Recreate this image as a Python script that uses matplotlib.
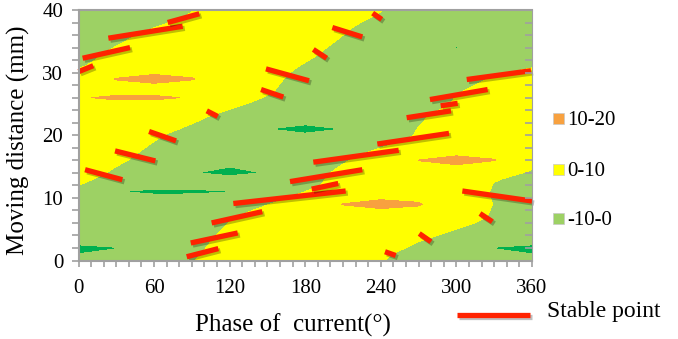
"""Contour map of force vs. phase of current and moving distance, with stable points."""
import matplotlib
matplotlib.use("Agg")
import matplotlib.pyplot as plt
import matplotlib.patheffects as pe
import numpy as np
from matplotlib.patches import Rectangle

# grid: rows = moving distance (mm), columns = phase (deg)
phase = [0, 30, 60, 90, 120, 150, 180, 210, 240, 270, 300, 330, 360]
distance = list(range(0, 41))
force = [
    [-8.5, -8.5, -4.8, -0.3, 4.2, 8.5, 8.5, 5.0, 0.5, -4.1, -8.5, -8.5, -8.5],
    [-9.8, -8.5, -5.6, -1.1, 3.5, 8.0, 8.5, 5.7, 1.2, -3.3, -7.8, -8.5, -9.8],
    [-13.0, -10.2, -6.2, -1.7, 2.9, 7.4, 8.5, 7.5, 3.0, -1.5, -6.0, -10.2, -13.0],
    [-7.0, -8.5, -6.8, -2.3, 2.3, 6.8, 8.5, 8.5, 4.5, 0.0, -4.5, -8.5, -7.0],
    [-8.5, -8.5, -7.4, -2.9, 1.7, 6.2, 8.5, 8.5, 6.8, 2.3, -2.3, -6.8, -8.5],
    [-8.5, -8.5, -8.1, -3.6, 0.9, 5.4, 8.5, 8.5, 8.5, 4.5, 0.0, -4.5, -8.5],
    [-6.8, -8.5, -8.5, -4.4, 0.2, 4.7, 8.5, 8.5, 8.5, 6.8, 2.3, -2.3, -6.8],
    [-5.4, -8.5, -8.5, -5.4, -0.9, 3.6, 8.1, 8.5, 8.5, 8.1, 3.6, -0.9, -5.4],
    [-5.0, -8.5, -8.5, -7.2, -2.7, 1.8, 6.3, 8.5, 8.5, 8.5, 4.1, -0.5, -5.0],
    [-4.7, -8.5, -8.5, -8.5, -4.8, -0.3, 4.2, 10.2, 13.5, 10.6, 4.4, -0.2, -4.7],
    [-4.4, -8.5, -8.5, -8.5, -6.9, -2.4, 2.1, 6.6, 8.5, 8.5, 4.7, -0.5, -4.4],
    [-3.0, -9.8, -11.0, -10.9, -10.1, -4.5, 0.0, 4.5, 8.5, 8.5, 6.0, -0.8, -3.5],
    [0.0, -4.5, -8.5, -8.5, -8.5, -6.3, -1.8, 2.7, 7.2, 8.5, 8.5, -0.5, -3.0],
    [1.8, -2.7, -7.2, -8.5, -7.0, -6.9, -2.4, 2.1, 6.6, 8.5, 8.5, 0.5, -2.0],
    [3.3, -1.2, -5.7, -9.5, -12.5, -9.5, -3.0, 1.5, 6.0, 8.5, 8.5, 2.5, -0.8],
    [4.5, 0.0, -4.5, -8.5, -9.8, -8.5, -4.1, 0.5, 5.0, 8.5, 8.5, 5.5, 0.8],
    [5.9, 1.4, -3.2, -7.7, -8.5, -8.5, -5.3, -0.8, 3.8, 10.1, 13.5, 10.3, 3.0],
    [6.9, 2.4, -2.1, -6.6, -8.5, -8.5, -6.8, -2.3, 2.3, 6.8, 8.5, 8.5, 5.0],
    [8.0, 3.5, -1.1, -5.6, -8.5, -8.5, -8.5, -4.5, 0.0, 4.5, 8.5, 8.5, 8.0],
    [8.5, 4.5, 0.0, -4.5, -8.5, -8.5, -8.5, -7.1, -2.6, 2.0, 6.5, 8.5, 8.5],
    [8.5, 5.6, 1.1, -3.5, -8.0, -8.5, -8.5, -8.4, -3.9, 0.6, 5.1, 8.5, 8.5],
    [8.5, 7.5, 3.0, -1.5, -6.0, -9.9, -13.0, -9.9, -4.4, 0.2, 4.7, 8.5, 8.5],
    [8.5, 8.5, 4.1, 0.3, -4.2, -8.5, -8.5, -8.5, -5.0, -0.5, 4.1, 8.5, 8.5],
    [8.5, 8.5, 6.5, 2.0, -2.6, -7.1, -8.5, -8.5, -5.6, -1.1, 3.5, 8.0, 8.5],
    [8.5, 8.5, 8.5, 4.2, -0.3, -4.8, -8.5, -8.5, -6.9, -2.4, 2.1, 6.6, 8.5],
    [8.5, 8.5, 8.5, 6.5, 2.0, -2.6, -7.1, -8.5, -8.3, -3.8, 0.8, 5.3, 8.5],
    [9.6, 10.8, 10.8, 9.6, 3.9, -0.6, -5.1, -8.5, -8.5, -4.4, 0.2, 4.7, 8.5],
    [8.3, 8.5, 8.5, 8.5, 5.3, 0.8, -3.8, -8.3, -8.5, -5.3, -0.8, 3.8, 8.3],
    [6.8, 8.5, 8.5, 8.5, 5.9, 1.4, -3.2, -7.7, -8.5, -6.8, -2.3, 2.3, 6.8],
    [5.3, 10.3, 13.5, 10.3, 6.5, 2.0, -2.6, -7.1, -8.5, -8.3, -3.8, 0.8, 5.3],
    [2.7, 7.2, 8.5, 8.5, 7.2, 2.7, -1.8, -6.3, -8.5, -8.5, -6.3, -1.8, 2.7],
    [-0.8, 3.8, 8.3, 8.5, 8.3, 3.8, -0.8, -5.3, -8.5, -8.5, -8.5, -5.3, -0.8],
    [-2.0, 2.6, 7.1, 8.5, 8.5, 5.0, 0.5, -4.1, -8.5, -8.5, -8.5, -6.5, -2.0],
    [-2.9, 1.7, 6.2, 8.5, 8.5, 6.2, 1.7, -2.9, -7.4, -8.5, -8.5, -7.4, -2.9],
    [-4.2, 0.3, 4.8, 8.5, 8.5, 7.1, 2.6, -2.0, -6.5, -8.5, -10.2, -8.5, -4.2],
    [-5.6, -1.1, 3.5, 8.0, 8.5, 8.1, 3.6, -0.9, -5.4, -8.5, -8.5, -8.5, -5.6],
    [-6.9, -2.4, 2.1, 6.6, 8.5, 8.5, 4.5, 0.0, -4.5, -8.5, -8.5, -8.5, -6.9],
    [-8.5, -4.2, 0.3, 4.8, 8.5, 8.5, 5.4, 0.9, -3.6, -8.1, -8.5, -8.5, -8.5],
    [-8.5, -6.3, -1.8, 2.7, 7.2, 8.5, 6.6, 2.1, -2.4, -6.9, -8.5, -8.5, -8.5],
    [-8.5, -8.3, -3.8, 0.8, 5.3, 8.5, 8.1, 3.6, -0.9, -5.4, -8.5, -8.5, -8.5],
    [-8.5, -8.5, -4.8, -0.3, 4.2, 8.5, 8.5, 4.8, 0.3, -4.2, -8.5, -8.5, -8.5],
]
levels = [-20, -10, 0, 10, 20]
level_colors = ["#00B050", "#9DD164", "#FFFF00", "#F8A13F"]
legend_labels = ["10-20", "0-10", "-10-0"]

# stable points: (start, end) of each red segment
stable_phase = [(0, 11.7), (3.3, 40.9), (23.7, 82.7), (70.8, 95.9), (148.8, 183.0),
                (144.9, 162.6), (101.8, 110.5), (56.0, 77.4), (29.0, 61.0), (5.2, 34.8),
                (122.9, 212.1), (167.9, 225.3), (185.1, 206.2), (186.4, 254.2), (237.2, 294.1),
                (105.7, 145.9), (89.1, 126.4), (85.9, 111.0), (304.7, 360.0), (318.7, 328.5),
                (270.5, 279.8), (243.3, 251.8), (233.5, 240.7), (201.5, 225.3), (186.4, 197.0),
                (308.2, 359.2), (279.0, 324.8), (287.5, 301.0), (260.5, 295.7)]
stable_dist = [(30.15, 31.1), (32.3, 34.0), (35.5, 37.4), (38.0, 39.4), (30.6, 28.7),
               (27.3, 26.1), (23.9, 23.0), (20.6, 19.1), (17.5, 15.9), (14.5, 12.9),
               (9.1, 11.1), (12.6, 14.5), (11.4, 12.3), (15.7, 17.6), (18.6, 20.3),
               (6.0, 7.8), (2.8, 4.4), (0.6, 1.9), (11.1, 9.5), (7.5, 6.2),
               (4.3, 3.0), (1.4, 0.8), (39.5, 38.5), (37.2, 35.7), (33.7, 32.3),
               (28.9, 30.3), (25.7, 27.3), (24.7, 25.1), (22.8, 23.9)]

RED = "#FF2200"
GRAY = "#A0A0A0"
plt.rcParams["font.family"] = ["Liberation Serif", "DejaVu Serif"]

fig = plt.figure(figsize=(6.78, 3.39), dpi=100)
ax = fig.add_axes([78.5 / 678, 1 - 260.5 / 339, 453.5 / 678, 250.5 / 339])

ax.contourf(phase, distance, np.array(force), levels=levels, colors=level_colors)

shadow = [pe.SimpleLineShadow(offset=(1.5, -1.5), shadow_color="k", alpha=0.25), pe.Normal()]
for xs, ys in zip(stable_phase, stable_dist):
    ax.plot(xs, ys, color=RED, linewidth=3.8, solid_capstyle="butt", path_effects=shadow, clip_on=False)

ax.set_xlim(0, 360)
ax.set_ylim(0, 40)
ax.set_xticks(range(0, 361, 60))
ax.set_xticks(range(0, 361, 10), minor=True)
ax.set_yticks(range(0, 41, 10))
ax.set_yticks(range(0, 41, 2), minor=True)
ax.tick_params(axis="x", which="both", direction="out", length=4, width=1.2, color=GRAY, labelsize=15, pad=9)
ax.tick_params(axis="y", which="both", direction="out", length=5, width=1.2, color=GRAY, labelsize=15, pad=6)
for side in ax.spines.values():
    side.set_color(GRAY)
    side.set_linewidth(1.5)
ax.spines["right"].set_linewidth(0.8)

# inward ticks on the right edge
ax_r = ax.twinx()
ax_r.set_ylim(0, 40)
ax_r.set_yticks(range(0, 41, 2))
ax_r.tick_params(axis="y", direction="in", length=5, width=1.2, color=GRAY, labelright=False)
for side in ax_r.spines.values():
    side.set_visible(False)

fig.text(18 / 678, 1 - 140 / 339, "Moving distance (mm)", rotation=90, ha="center", va="center", fontsize=18)
fig.text(292.5 / 678, 1 - 325 / 339, "Phase of  current(°)", ha="center", va="center", fontsize=18)

# colour legend
for label, color, yc in zip(legend_labels, level_colors[::-1], [118.8, 169.5, 218.5]):
    fig.patches.append(Rectangle((553 / 678, 1 - (yc + 5.5) / 339), 11 / 678, 11 / 339,
                                 transform=fig.transFigure, facecolor=color, edgecolor="#C8C8C8", linewidth=0.5))
    fig.text(567 / 678, 1 - (yc + 2) / 339, label, ha="left", va="center", fontsize=15)

fig.add_artist(plt.Line2D([457 / 678, 530 / 678], [1 - 315 / 339, 1 - 315 / 339], color=RED,
                          linewidth=3.8, solid_capstyle="butt", path_effects=shadow))
fig.text(547 / 678, 1 - 312 / 339, "Stable point", ha="left", va="center", fontsize=17)

fig.savefig("out.png", dpi=100)
